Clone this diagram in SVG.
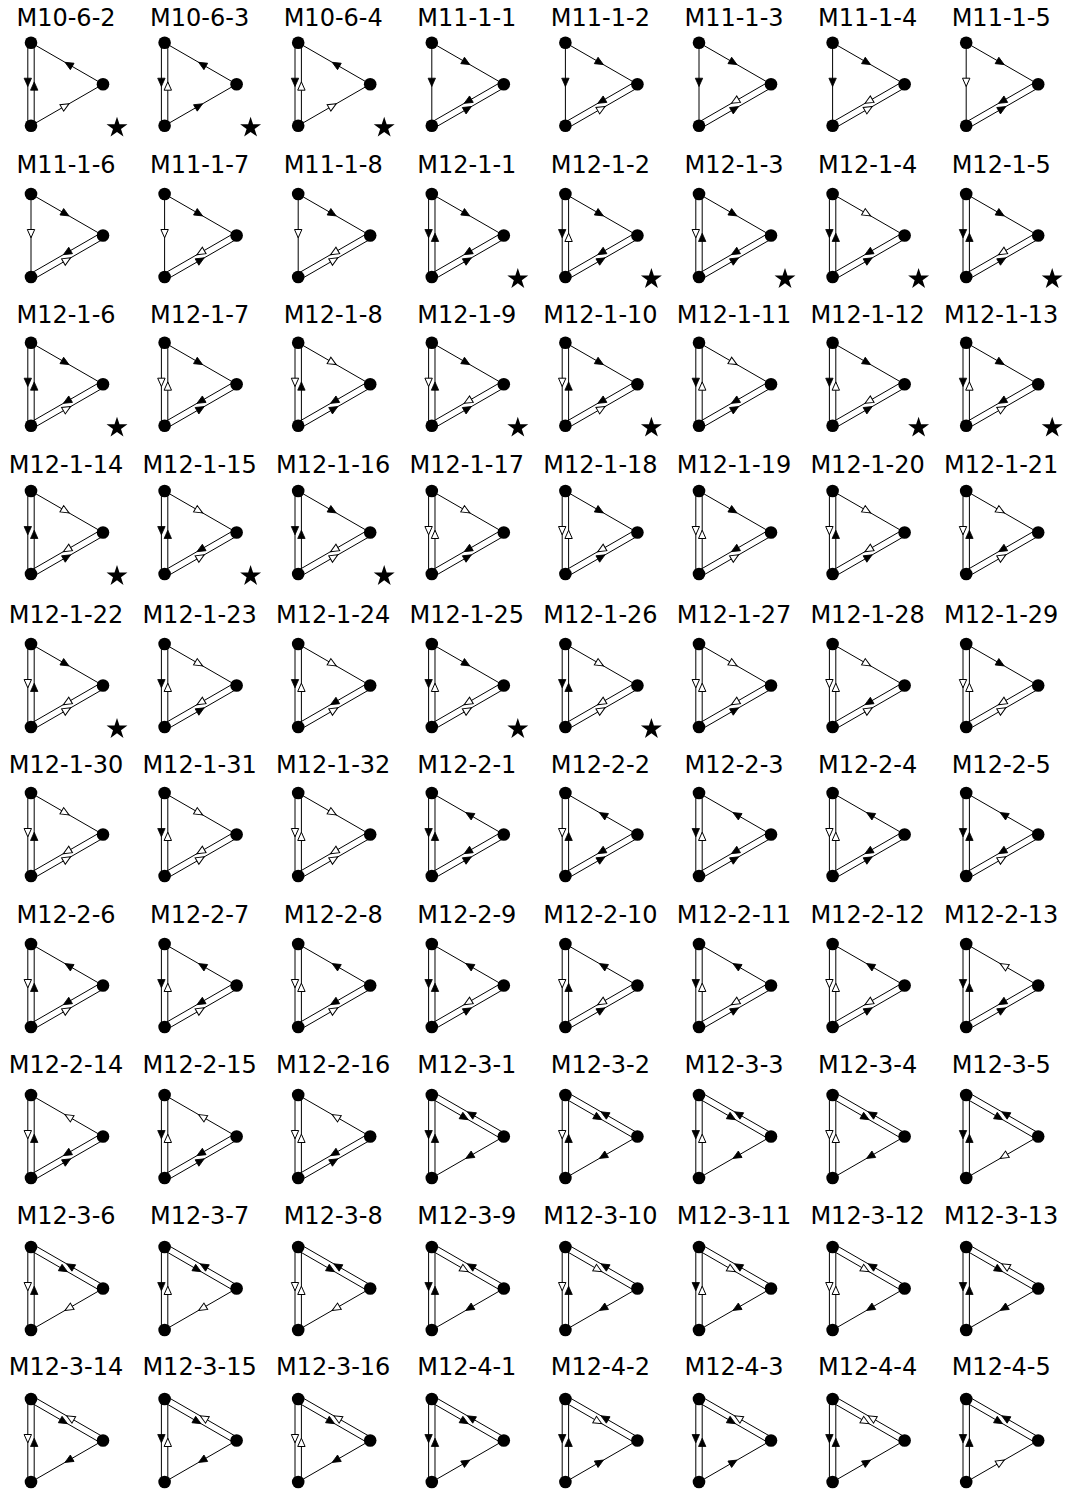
<svg xmlns="http://www.w3.org/2000/svg" width="1070" height="1493" viewBox="0 0 1070 1493">
<style>
text{font-family:"DejaVu Sans",sans-serif;font-size:24px;text-anchor:middle;fill:#000}
.e{stroke:#000;stroke-width:1;fill:none}
.f{fill:#000;stroke:#000;stroke-width:0.8}
.o{fill:#fff;stroke:#000;stroke-width:1}
</style>
<defs>
<path id="ah" d="M2.3,0 L-6,-3.7 L-6,3.7 Z"/>
<line id="tb1" x1="0" y1="0" x2="0" y2="83"/>
<g id="tb2"><line x1="-3.2" y1="0" x2="-3.2" y2="83"/><line x1="3.2" y1="0" x2="3.2" y2="83"/></g>
<line id="tr1" x1="0" y1="0" x2="72" y2="41.5"/>
<g id="tr2"><line x1="-1.6" y1="2.77" x2="70.4" y2="44.27"/><line x1="1.6" y1="-2.77" x2="73.6" y2="38.73"/></g>
<line id="br1" x1="0" y1="83" x2="72" y2="41.5"/>
<g id="br2"><line x1="1.6" y1="85.77" x2="73.6" y2="44.27"/><line x1="-1.6" y1="80.23" x2="70.4" y2="38.73"/></g>
<use id="tbD1" href="#ah" transform="translate(0,41.5) rotate(90)"/>
<use id="tbD2" href="#ah" transform="translate(-3.2,41.5) rotate(90)"/>
<use id="tbU2" href="#ah" transform="translate(3.2,41.5) rotate(-90)"/>
<use id="trR1" href="#ah" transform="translate(36,20.75) rotate(30)"/>
<use id="trL1" href="#ah" transform="translate(36,20.75) rotate(210)"/>
<use id="trR2" href="#ah" transform="translate(34.4,23.52) rotate(30)"/>
<use id="trL2" href="#ah" transform="translate(37.6,17.98) rotate(210)"/>
<use id="brR1" href="#ah" transform="translate(36,62.25) rotate(-30)"/>
<use id="brL1" href="#ah" transform="translate(36,62.25) rotate(150)"/>
<use id="brR2" href="#ah" transform="translate(37.6,65.02) rotate(-30)"/>
<use id="brL2" href="#ah" transform="translate(34.4,59.48) rotate(150)"/>
<g id="nd" fill="#000"><circle cx="0" cy="0" r="6.3"/><circle cx="0" cy="83" r="6.3"/><circle cx="72" cy="41.5" r="6.3"/></g>
<path id="star" fill="#000" d="M0,-11 L2.469,-3.398 L10.462,-3.399 L3.996,1.298 L6.466,8.899 L0,4.2 L-6.466,8.899 L-3.996,1.298 L-10.462,-3.399 L-2.469,-3.398 Z"/>
</defs>
<rect width="1070" height="1493" fill="#fff"/>

<g id="M10-6-2" transform="translate(31,42.7)"><text x="35" y="-16.7">M10-6-2</text><g class="e"><use href="#tb2"/><use href="#tr1"/><use href="#br1"/><use href="#tbD2" class="f"/><use href="#tbU2" class="f"/><use href="#trL1" class="f"/><use href="#brR1" class="o"/></g><use href="#nd"/><use href="#star" x="86" y="85"/></g>
<g id="M10-6-3" transform="translate(164.6,42.7)"><text x="35" y="-16.7">M10-6-3</text><g class="e"><use href="#tb2"/><use href="#tr1"/><use href="#br1"/><use href="#tbD2" class="f"/><use href="#tbU2" class="o"/><use href="#trL1" class="f"/><use href="#brR1" class="f"/></g><use href="#nd"/><use href="#star" x="86" y="85"/></g>
<g id="M10-6-4" transform="translate(298.2,42.7)"><text x="35" y="-16.7">M10-6-4</text><g class="e"><use href="#tb2"/><use href="#tr1"/><use href="#br1"/><use href="#tbD2" class="f"/><use href="#tbU2" class="o"/><use href="#trL1" class="f"/><use href="#brR1" class="o"/></g><use href="#nd"/><use href="#star" x="86" y="85"/></g>
<g id="M11-1-1" transform="translate(431.8,42.7)"><text x="35" y="-16.7">M11-1-1</text><g class="e"><use href="#tb1"/><use href="#tr1"/><use href="#br2"/><use href="#tbD1" class="f"/><use href="#trR1" class="f"/><use href="#brL2" class="f"/><use href="#brR2" class="f"/></g><use href="#nd"/></g>
<g id="M11-1-2" transform="translate(565.4,42.7)"><text x="35" y="-16.7">M11-1-2</text><g class="e"><use href="#tb1"/><use href="#tr1"/><use href="#br2"/><use href="#tbD1" class="f"/><use href="#trR1" class="f"/><use href="#brL2" class="f"/><use href="#brR2" class="o"/></g><use href="#nd"/></g>
<g id="M11-1-3" transform="translate(699,42.7)"><text x="35" y="-16.7">M11-1-3</text><g class="e"><use href="#tb1"/><use href="#tr1"/><use href="#br2"/><use href="#tbD1" class="f"/><use href="#trR1" class="f"/><use href="#brL2" class="o"/><use href="#brR2" class="f"/></g><use href="#nd"/></g>
<g id="M11-1-4" transform="translate(832.6,42.7)"><text x="35" y="-16.7">M11-1-4</text><g class="e"><use href="#tb1"/><use href="#tr1"/><use href="#br2"/><use href="#tbD1" class="f"/><use href="#trR1" class="f"/><use href="#brL2" class="o"/><use href="#brR2" class="o"/></g><use href="#nd"/></g>
<g id="M11-1-5" transform="translate(966.2,42.7)"><text x="35" y="-16.7">M11-1-5</text><g class="e"><use href="#tb1"/><use href="#tr1"/><use href="#br2"/><use href="#tbD1" class="o"/><use href="#trR1" class="f"/><use href="#brL2" class="f"/><use href="#brR2" class="f"/></g><use href="#nd"/></g>

<g id="M11-1-6" transform="translate(31,194)"><text x="35" y="-21">M11-1-6</text><g class="e"><use href="#tb1"/><use href="#tr1"/><use href="#br2"/><use href="#tbD1" class="o"/><use href="#trR1" class="f"/><use href="#brL2" class="f"/><use href="#brR2" class="o"/></g><use href="#nd"/></g>
<g id="M11-1-7" transform="translate(164.6,194)"><text x="35" y="-21">M11-1-7</text><g class="e"><use href="#tb1"/><use href="#tr1"/><use href="#br2"/><use href="#tbD1" class="o"/><use href="#trR1" class="f"/><use href="#brL2" class="o"/><use href="#brR2" class="f"/></g><use href="#nd"/></g>
<g id="M11-1-8" transform="translate(298.2,194)"><text x="35" y="-21">M11-1-8</text><g class="e"><use href="#tb1"/><use href="#tr1"/><use href="#br2"/><use href="#tbD1" class="o"/><use href="#trR1" class="f"/><use href="#brL2" class="o"/><use href="#brR2" class="o"/></g><use href="#nd"/></g>
<g id="M12-1-1" transform="translate(431.8,194)"><text x="35" y="-21">M12-1-1</text><g class="e"><use href="#tb2"/><use href="#tr1"/><use href="#br2"/><use href="#tbD2" class="f"/><use href="#tbU2" class="f"/><use href="#trR1" class="f"/><use href="#brL2" class="f"/><use href="#brR2" class="f"/></g><use href="#nd"/><use href="#star" x="86" y="85"/></g>
<g id="M12-1-2" transform="translate(565.4,194)"><text x="35" y="-21">M12-1-2</text><g class="e"><use href="#tb2"/><use href="#tr1"/><use href="#br2"/><use href="#tbD2" class="f"/><use href="#tbU2" class="o"/><use href="#trR1" class="f"/><use href="#brL2" class="f"/><use href="#brR2" class="f"/></g><use href="#nd"/><use href="#star" x="86" y="85"/></g>
<g id="M12-1-3" transform="translate(699,194)"><text x="35" y="-21">M12-1-3</text><g class="e"><use href="#tb2"/><use href="#tr1"/><use href="#br2"/><use href="#tbD2" class="o"/><use href="#tbU2" class="f"/><use href="#trR1" class="f"/><use href="#brL2" class="f"/><use href="#brR2" class="f"/></g><use href="#nd"/><use href="#star" x="86" y="85"/></g>
<g id="M12-1-4" transform="translate(832.6,194)"><text x="35" y="-21">M12-1-4</text><g class="e"><use href="#tb2"/><use href="#tr1"/><use href="#br2"/><use href="#tbD2" class="f"/><use href="#tbU2" class="f"/><use href="#trR1" class="o"/><use href="#brL2" class="f"/><use href="#brR2" class="f"/></g><use href="#nd"/><use href="#star" x="86" y="85"/></g>
<g id="M12-1-5" transform="translate(966.2,194)"><text x="35" y="-21">M12-1-5</text><g class="e"><use href="#tb2"/><use href="#tr1"/><use href="#br2"/><use href="#tbD2" class="f"/><use href="#tbU2" class="f"/><use href="#trR1" class="f"/><use href="#brL2" class="o"/><use href="#brR2" class="f"/></g><use href="#nd"/><use href="#star" x="86" y="85"/></g>

<g id="M12-1-6" transform="translate(31,342.7)"><text x="35" y="-19.7">M12-1-6</text><g class="e"><use href="#tb2"/><use href="#tr1"/><use href="#br2"/><use href="#tbD2" class="f"/><use href="#tbU2" class="f"/><use href="#trR1" class="f"/><use href="#brL2" class="f"/><use href="#brR2" class="o"/></g><use href="#nd"/><use href="#star" x="86" y="85"/></g>
<g id="M12-1-7" transform="translate(164.6,342.7)"><text x="35" y="-19.7">M12-1-7</text><g class="e"><use href="#tb2"/><use href="#tr1"/><use href="#br2"/><use href="#tbD2" class="o"/><use href="#tbU2" class="o"/><use href="#trR1" class="f"/><use href="#brL2" class="f"/><use href="#brR2" class="f"/></g><use href="#nd"/></g>
<g id="M12-1-8" transform="translate(298.2,342.7)"><text x="35" y="-19.7">M12-1-8</text><g class="e"><use href="#tb2"/><use href="#tr1"/><use href="#br2"/><use href="#tbD2" class="o"/><use href="#tbU2" class="f"/><use href="#trR1" class="o"/><use href="#brL2" class="f"/><use href="#brR2" class="f"/></g><use href="#nd"/></g>
<g id="M12-1-9" transform="translate(431.8,342.7)"><text x="35" y="-19.7">M12-1-9</text><g class="e"><use href="#tb2"/><use href="#tr1"/><use href="#br2"/><use href="#tbD2" class="o"/><use href="#tbU2" class="f"/><use href="#trR1" class="f"/><use href="#brL2" class="o"/><use href="#brR2" class="f"/></g><use href="#nd"/><use href="#star" x="86" y="85"/></g>
<g id="M12-1-10" transform="translate(565.4,342.7)"><text x="35" y="-19.7">M12-1-10</text><g class="e"><use href="#tb2"/><use href="#tr1"/><use href="#br2"/><use href="#tbD2" class="o"/><use href="#tbU2" class="f"/><use href="#trR1" class="f"/><use href="#brL2" class="f"/><use href="#brR2" class="o"/></g><use href="#nd"/><use href="#star" x="86" y="85"/></g>
<g id="M12-1-11" transform="translate(699,342.7)"><text x="35" y="-19.7">M12-1-11</text><g class="e"><use href="#tb2"/><use href="#tr1"/><use href="#br2"/><use href="#tbD2" class="f"/><use href="#tbU2" class="o"/><use href="#trR1" class="o"/><use href="#brL2" class="f"/><use href="#brR2" class="f"/></g><use href="#nd"/></g>
<g id="M12-1-12" transform="translate(832.6,342.7)"><text x="35" y="-19.7">M12-1-12</text><g class="e"><use href="#tb2"/><use href="#tr1"/><use href="#br2"/><use href="#tbD2" class="f"/><use href="#tbU2" class="o"/><use href="#trR1" class="f"/><use href="#brL2" class="o"/><use href="#brR2" class="f"/></g><use href="#nd"/><use href="#star" x="86" y="85"/></g>
<g id="M12-1-13" transform="translate(966.2,342.7)"><text x="35" y="-19.7">M12-1-13</text><g class="e"><use href="#tb2"/><use href="#tr1"/><use href="#br2"/><use href="#tbD2" class="f"/><use href="#tbU2" class="o"/><use href="#trR1" class="f"/><use href="#brL2" class="f"/><use href="#brR2" class="o"/></g><use href="#nd"/><use href="#star" x="86" y="85"/></g>

<g id="M12-1-14" transform="translate(31,491)"><text x="35" y="-18">M12-1-14</text><g class="e"><use href="#tb2"/><use href="#tr1"/><use href="#br2"/><use href="#tbD2" class="f"/><use href="#tbU2" class="f"/><use href="#trR1" class="o"/><use href="#brL2" class="o"/><use href="#brR2" class="f"/></g><use href="#nd"/><use href="#star" x="86" y="85"/></g>
<g id="M12-1-15" transform="translate(164.6,491)"><text x="35" y="-18">M12-1-15</text><g class="e"><use href="#tb2"/><use href="#tr1"/><use href="#br2"/><use href="#tbD2" class="f"/><use href="#tbU2" class="f"/><use href="#trR1" class="o"/><use href="#brL2" class="f"/><use href="#brR2" class="o"/></g><use href="#nd"/><use href="#star" x="86" y="85"/></g>
<g id="M12-1-16" transform="translate(298.2,491)"><text x="35" y="-18">M12-1-16</text><g class="e"><use href="#tb2"/><use href="#tr1"/><use href="#br2"/><use href="#tbD2" class="f"/><use href="#tbU2" class="f"/><use href="#trR1" class="f"/><use href="#brL2" class="o"/><use href="#brR2" class="o"/></g><use href="#nd"/><use href="#star" x="86" y="85"/></g>
<g id="M12-1-17" transform="translate(431.8,491)"><text x="35" y="-18">M12-1-17</text><g class="e"><use href="#tb2"/><use href="#tr1"/><use href="#br2"/><use href="#tbD2" class="o"/><use href="#tbU2" class="o"/><use href="#trR1" class="o"/><use href="#brL2" class="f"/><use href="#brR2" class="f"/></g><use href="#nd"/></g>
<g id="M12-1-18" transform="translate(565.4,491)"><text x="35" y="-18">M12-1-18</text><g class="e"><use href="#tb2"/><use href="#tr1"/><use href="#br2"/><use href="#tbD2" class="o"/><use href="#tbU2" class="o"/><use href="#trR1" class="f"/><use href="#brL2" class="o"/><use href="#brR2" class="f"/></g><use href="#nd"/></g>
<g id="M12-1-19" transform="translate(699,491)"><text x="35" y="-18">M12-1-19</text><g class="e"><use href="#tb2"/><use href="#tr1"/><use href="#br2"/><use href="#tbD2" class="o"/><use href="#tbU2" class="o"/><use href="#trR1" class="f"/><use href="#brL2" class="f"/><use href="#brR2" class="o"/></g><use href="#nd"/></g>
<g id="M12-1-20" transform="translate(832.6,491)"><text x="35" y="-18">M12-1-20</text><g class="e"><use href="#tb2"/><use href="#tr1"/><use href="#br2"/><use href="#tbD2" class="o"/><use href="#tbU2" class="f"/><use href="#trR1" class="o"/><use href="#brL2" class="o"/><use href="#brR2" class="f"/></g><use href="#nd"/></g>
<g id="M12-1-21" transform="translate(966.2,491)"><text x="35" y="-18">M12-1-21</text><g class="e"><use href="#tb2"/><use href="#tr1"/><use href="#br2"/><use href="#tbD2" class="o"/><use href="#tbU2" class="f"/><use href="#trR1" class="o"/><use href="#brL2" class="f"/><use href="#brR2" class="o"/></g><use href="#nd"/></g>

<g id="M12-1-22" transform="translate(31,644)"><text x="35" y="-21">M12-1-22</text><g class="e"><use href="#tb2"/><use href="#tr1"/><use href="#br2"/><use href="#tbD2" class="o"/><use href="#tbU2" class="f"/><use href="#trR1" class="f"/><use href="#brL2" class="o"/><use href="#brR2" class="o"/></g><use href="#nd"/><use href="#star" x="86" y="85"/></g>
<g id="M12-1-23" transform="translate(164.6,644)"><text x="35" y="-21">M12-1-23</text><g class="e"><use href="#tb2"/><use href="#tr1"/><use href="#br2"/><use href="#tbD2" class="f"/><use href="#tbU2" class="o"/><use href="#trR1" class="o"/><use href="#brL2" class="o"/><use href="#brR2" class="f"/></g><use href="#nd"/></g>
<g id="M12-1-24" transform="translate(298.2,644)"><text x="35" y="-21">M12-1-24</text><g class="e"><use href="#tb2"/><use href="#tr1"/><use href="#br2"/><use href="#tbD2" class="f"/><use href="#tbU2" class="o"/><use href="#trR1" class="o"/><use href="#brL2" class="f"/><use href="#brR2" class="o"/></g><use href="#nd"/></g>
<g id="M12-1-25" transform="translate(431.8,644)"><text x="35" y="-21">M12-1-25</text><g class="e"><use href="#tb2"/><use href="#tr1"/><use href="#br2"/><use href="#tbD2" class="f"/><use href="#tbU2" class="o"/><use href="#trR1" class="f"/><use href="#brL2" class="o"/><use href="#brR2" class="o"/></g><use href="#nd"/><use href="#star" x="86" y="85"/></g>
<g id="M12-1-26" transform="translate(565.4,644)"><text x="35" y="-21">M12-1-26</text><g class="e"><use href="#tb2"/><use href="#tr1"/><use href="#br2"/><use href="#tbD2" class="f"/><use href="#tbU2" class="f"/><use href="#trR1" class="o"/><use href="#brL2" class="o"/><use href="#brR2" class="o"/></g><use href="#nd"/><use href="#star" x="86" y="85"/></g>
<g id="M12-1-27" transform="translate(699,644)"><text x="35" y="-21">M12-1-27</text><g class="e"><use href="#tb2"/><use href="#tr1"/><use href="#br2"/><use href="#tbD2" class="o"/><use href="#tbU2" class="o"/><use href="#trR1" class="o"/><use href="#brL2" class="o"/><use href="#brR2" class="f"/></g><use href="#nd"/></g>
<g id="M12-1-28" transform="translate(832.6,644)"><text x="35" y="-21">M12-1-28</text><g class="e"><use href="#tb2"/><use href="#tr1"/><use href="#br2"/><use href="#tbD2" class="o"/><use href="#tbU2" class="o"/><use href="#trR1" class="o"/><use href="#brL2" class="f"/><use href="#brR2" class="o"/></g><use href="#nd"/></g>
<g id="M12-1-29" transform="translate(966.2,644)"><text x="35" y="-21">M12-1-29</text><g class="e"><use href="#tb2"/><use href="#tr1"/><use href="#br2"/><use href="#tbD2" class="o"/><use href="#tbU2" class="o"/><use href="#trR1" class="f"/><use href="#brL2" class="o"/><use href="#brR2" class="o"/></g><use href="#nd"/></g>

<g id="M12-1-30" transform="translate(31,793)"><text x="35" y="-20">M12-1-30</text><g class="e"><use href="#tb2"/><use href="#tr1"/><use href="#br2"/><use href="#tbD2" class="o"/><use href="#tbU2" class="f"/><use href="#trR1" class="o"/><use href="#brL2" class="o"/><use href="#brR2" class="o"/></g><use href="#nd"/></g>
<g id="M12-1-31" transform="translate(164.6,793)"><text x="35" y="-20">M12-1-31</text><g class="e"><use href="#tb2"/><use href="#tr1"/><use href="#br2"/><use href="#tbD2" class="f"/><use href="#tbU2" class="o"/><use href="#trR1" class="o"/><use href="#brL2" class="o"/><use href="#brR2" class="o"/></g><use href="#nd"/></g>
<g id="M12-1-32" transform="translate(298.2,793)"><text x="35" y="-20">M12-1-32</text><g class="e"><use href="#tb2"/><use href="#tr1"/><use href="#br2"/><use href="#tbD2" class="o"/><use href="#tbU2" class="o"/><use href="#trR1" class="o"/><use href="#brL2" class="o"/><use href="#brR2" class="o"/></g><use href="#nd"/></g>
<g id="M12-2-1" transform="translate(431.8,793)"><text x="35" y="-20">M12-2-1</text><g class="e"><use href="#tb2"/><use href="#tr1"/><use href="#br2"/><use href="#tbD2" class="f"/><use href="#tbU2" class="f"/><use href="#trL1" class="f"/><use href="#brL2" class="f"/><use href="#brR2" class="f"/></g><use href="#nd"/></g>
<g id="M12-2-2" transform="translate(565.4,793)"><text x="35" y="-20">M12-2-2</text><g class="e"><use href="#tb2"/><use href="#tr1"/><use href="#br2"/><use href="#tbD2" class="o"/><use href="#tbU2" class="f"/><use href="#trL1" class="f"/><use href="#brL2" class="f"/><use href="#brR2" class="f"/></g><use href="#nd"/></g>
<g id="M12-2-3" transform="translate(699,793)"><text x="35" y="-20">M12-2-3</text><g class="e"><use href="#tb2"/><use href="#tr1"/><use href="#br2"/><use href="#tbD2" class="f"/><use href="#tbU2" class="o"/><use href="#trL1" class="f"/><use href="#brL2" class="f"/><use href="#brR2" class="f"/></g><use href="#nd"/></g>
<g id="M12-2-4" transform="translate(832.6,793)"><text x="35" y="-20">M12-2-4</text><g class="e"><use href="#tb2"/><use href="#tr1"/><use href="#br2"/><use href="#tbD2" class="o"/><use href="#tbU2" class="o"/><use href="#trL1" class="f"/><use href="#brL2" class="f"/><use href="#brR2" class="f"/></g><use href="#nd"/></g>
<g id="M12-2-5" transform="translate(966.2,793)"><text x="35" y="-20">M12-2-5</text><g class="e"><use href="#tb2"/><use href="#tr1"/><use href="#br2"/><use href="#tbD2" class="f"/><use href="#tbU2" class="f"/><use href="#trL1" class="f"/><use href="#brL2" class="f"/><use href="#brR2" class="o"/></g><use href="#nd"/></g>

<g id="M12-2-6" transform="translate(31,944)"><text x="35" y="-21">M12-2-6</text><g class="e"><use href="#tb2"/><use href="#tr1"/><use href="#br2"/><use href="#tbD2" class="o"/><use href="#tbU2" class="f"/><use href="#trL1" class="f"/><use href="#brL2" class="f"/><use href="#brR2" class="o"/></g><use href="#nd"/></g>
<g id="M12-2-7" transform="translate(164.6,944)"><text x="35" y="-21">M12-2-7</text><g class="e"><use href="#tb2"/><use href="#tr1"/><use href="#br2"/><use href="#tbD2" class="f"/><use href="#tbU2" class="o"/><use href="#trL1" class="f"/><use href="#brL2" class="f"/><use href="#brR2" class="o"/></g><use href="#nd"/></g>
<g id="M12-2-8" transform="translate(298.2,944)"><text x="35" y="-21">M12-2-8</text><g class="e"><use href="#tb2"/><use href="#tr1"/><use href="#br2"/><use href="#tbD2" class="o"/><use href="#tbU2" class="o"/><use href="#trL1" class="f"/><use href="#brL2" class="f"/><use href="#brR2" class="o"/></g><use href="#nd"/></g>
<g id="M12-2-9" transform="translate(431.8,944)"><text x="35" y="-21">M12-2-9</text><g class="e"><use href="#tb2"/><use href="#tr1"/><use href="#br2"/><use href="#tbD2" class="f"/><use href="#tbU2" class="f"/><use href="#trL1" class="f"/><use href="#brL2" class="o"/><use href="#brR2" class="f"/></g><use href="#nd"/></g>
<g id="M12-2-10" transform="translate(565.4,944)"><text x="35" y="-21">M12-2-10</text><g class="e"><use href="#tb2"/><use href="#tr1"/><use href="#br2"/><use href="#tbD2" class="o"/><use href="#tbU2" class="f"/><use href="#trL1" class="f"/><use href="#brL2" class="o"/><use href="#brR2" class="f"/></g><use href="#nd"/></g>
<g id="M12-2-11" transform="translate(699,944)"><text x="35" y="-21">M12-2-11</text><g class="e"><use href="#tb2"/><use href="#tr1"/><use href="#br2"/><use href="#tbD2" class="f"/><use href="#tbU2" class="o"/><use href="#trL1" class="f"/><use href="#brL2" class="o"/><use href="#brR2" class="f"/></g><use href="#nd"/></g>
<g id="M12-2-12" transform="translate(832.6,944)"><text x="35" y="-21">M12-2-12</text><g class="e"><use href="#tb2"/><use href="#tr1"/><use href="#br2"/><use href="#tbD2" class="o"/><use href="#tbU2" class="o"/><use href="#trL1" class="f"/><use href="#brL2" class="o"/><use href="#brR2" class="f"/></g><use href="#nd"/></g>
<g id="M12-2-13" transform="translate(966.2,944)"><text x="35" y="-21">M12-2-13</text><g class="e"><use href="#tb2"/><use href="#tr1"/><use href="#br2"/><use href="#tbD2" class="f"/><use href="#tbU2" class="f"/><use href="#trL1" class="o"/><use href="#brL2" class="f"/><use href="#brR2" class="f"/></g><use href="#nd"/></g>

<g id="M12-2-14" transform="translate(31,1095)"><text x="35" y="-22">M12-2-14</text><g class="e"><use href="#tb2"/><use href="#tr1"/><use href="#br2"/><use href="#tbD2" class="o"/><use href="#tbU2" class="f"/><use href="#trL1" class="o"/><use href="#brL2" class="f"/><use href="#brR2" class="f"/></g><use href="#nd"/></g>
<g id="M12-2-15" transform="translate(164.6,1095)"><text x="35" y="-22">M12-2-15</text><g class="e"><use href="#tb2"/><use href="#tr1"/><use href="#br2"/><use href="#tbD2" class="f"/><use href="#tbU2" class="o"/><use href="#trL1" class="o"/><use href="#brL2" class="f"/><use href="#brR2" class="f"/></g><use href="#nd"/></g>
<g id="M12-2-16" transform="translate(298.2,1095)"><text x="35" y="-22">M12-2-16</text><g class="e"><use href="#tb2"/><use href="#tr1"/><use href="#br2"/><use href="#tbD2" class="o"/><use href="#tbU2" class="o"/><use href="#trL1" class="o"/><use href="#brL2" class="f"/><use href="#brR2" class="f"/></g><use href="#nd"/></g>
<g id="M12-3-1" transform="translate(431.8,1095)"><text x="35" y="-22">M12-3-1</text><g class="e"><use href="#tb2"/><use href="#tr2"/><use href="#br1"/><use href="#tbD2" class="f"/><use href="#tbU2" class="f"/><use href="#trR2" class="f"/><use href="#trL2" class="f"/><use href="#brL1" class="f"/></g><use href="#nd"/></g>
<g id="M12-3-2" transform="translate(565.4,1095)"><text x="35" y="-22">M12-3-2</text><g class="e"><use href="#tb2"/><use href="#tr2"/><use href="#br1"/><use href="#tbD2" class="o"/><use href="#tbU2" class="f"/><use href="#trR2" class="f"/><use href="#trL2" class="f"/><use href="#brL1" class="f"/></g><use href="#nd"/></g>
<g id="M12-3-3" transform="translate(699,1095)"><text x="35" y="-22">M12-3-3</text><g class="e"><use href="#tb2"/><use href="#tr2"/><use href="#br1"/><use href="#tbD2" class="f"/><use href="#tbU2" class="o"/><use href="#trR2" class="f"/><use href="#trL2" class="f"/><use href="#brL1" class="f"/></g><use href="#nd"/></g>
<g id="M12-3-4" transform="translate(832.6,1095)"><text x="35" y="-22">M12-3-4</text><g class="e"><use href="#tb2"/><use href="#tr2"/><use href="#br1"/><use href="#tbD2" class="o"/><use href="#tbU2" class="o"/><use href="#trR2" class="f"/><use href="#trL2" class="f"/><use href="#brL1" class="f"/></g><use href="#nd"/></g>
<g id="M12-3-5" transform="translate(966.2,1095)"><text x="35" y="-22">M12-3-5</text><g class="e"><use href="#tb2"/><use href="#tr2"/><use href="#br1"/><use href="#tbD2" class="f"/><use href="#tbU2" class="f"/><use href="#trR2" class="f"/><use href="#trL2" class="f"/><use href="#brL1" class="o"/></g><use href="#nd"/></g>

<g id="M12-3-6" transform="translate(31,1247)"><text x="35" y="-23">M12-3-6</text><g class="e"><use href="#tb2"/><use href="#tr2"/><use href="#br1"/><use href="#tbD2" class="o"/><use href="#tbU2" class="f"/><use href="#trR2" class="f"/><use href="#trL2" class="f"/><use href="#brL1" class="o"/></g><use href="#nd"/></g>
<g id="M12-3-7" transform="translate(164.6,1247)"><text x="35" y="-23">M12-3-7</text><g class="e"><use href="#tb2"/><use href="#tr2"/><use href="#br1"/><use href="#tbD2" class="f"/><use href="#tbU2" class="o"/><use href="#trR2" class="f"/><use href="#trL2" class="f"/><use href="#brL1" class="o"/></g><use href="#nd"/></g>
<g id="M12-3-8" transform="translate(298.2,1247)"><text x="35" y="-23">M12-3-8</text><g class="e"><use href="#tb2"/><use href="#tr2"/><use href="#br1"/><use href="#tbD2" class="o"/><use href="#tbU2" class="o"/><use href="#trR2" class="f"/><use href="#trL2" class="f"/><use href="#brL1" class="o"/></g><use href="#nd"/></g>
<g id="M12-3-9" transform="translate(431.8,1247)"><text x="35" y="-23">M12-3-9</text><g class="e"><use href="#tb2"/><use href="#tr2"/><use href="#br1"/><use href="#tbD2" class="f"/><use href="#tbU2" class="f"/><use href="#trR2" class="o"/><use href="#trL2" class="f"/><use href="#brL1" class="f"/></g><use href="#nd"/></g>
<g id="M12-3-10" transform="translate(565.4,1247)"><text x="35" y="-23">M12-3-10</text><g class="e"><use href="#tb2"/><use href="#tr2"/><use href="#br1"/><use href="#tbD2" class="o"/><use href="#tbU2" class="f"/><use href="#trR2" class="o"/><use href="#trL2" class="f"/><use href="#brL1" class="f"/></g><use href="#nd"/></g>
<g id="M12-3-11" transform="translate(699,1247)"><text x="35" y="-23">M12-3-11</text><g class="e"><use href="#tb2"/><use href="#tr2"/><use href="#br1"/><use href="#tbD2" class="f"/><use href="#tbU2" class="o"/><use href="#trR2" class="o"/><use href="#trL2" class="f"/><use href="#brL1" class="f"/></g><use href="#nd"/></g>
<g id="M12-3-12" transform="translate(832.6,1247)"><text x="35" y="-23">M12-3-12</text><g class="e"><use href="#tb2"/><use href="#tr2"/><use href="#br1"/><use href="#tbD2" class="o"/><use href="#tbU2" class="o"/><use href="#trR2" class="o"/><use href="#trL2" class="f"/><use href="#brL1" class="f"/></g><use href="#nd"/></g>
<g id="M12-3-13" transform="translate(966.2,1247)"><text x="35" y="-23">M12-3-13</text><g class="e"><use href="#tb2"/><use href="#tr2"/><use href="#br1"/><use href="#tbD2" class="f"/><use href="#tbU2" class="f"/><use href="#trR2" class="f"/><use href="#trL2" class="o"/><use href="#brL1" class="f"/></g><use href="#nd"/></g>

<g id="M12-3-14" transform="translate(31,1399)"><text x="35" y="-24">M12-3-14</text><g class="e"><use href="#tb2"/><use href="#tr2"/><use href="#br1"/><use href="#tbD2" class="o"/><use href="#tbU2" class="f"/><use href="#trR2" class="f"/><use href="#trL2" class="o"/><use href="#brL1" class="f"/></g><use href="#nd"/></g>
<g id="M12-3-15" transform="translate(164.6,1399)"><text x="35" y="-24">M12-3-15</text><g class="e"><use href="#tb2"/><use href="#tr2"/><use href="#br1"/><use href="#tbD2" class="f"/><use href="#tbU2" class="o"/><use href="#trR2" class="f"/><use href="#trL2" class="o"/><use href="#brL1" class="f"/></g><use href="#nd"/></g>
<g id="M12-3-16" transform="translate(298.2,1399)"><text x="35" y="-24">M12-3-16</text><g class="e"><use href="#tb2"/><use href="#tr2"/><use href="#br1"/><use href="#tbD2" class="o"/><use href="#tbU2" class="o"/><use href="#trR2" class="f"/><use href="#trL2" class="o"/><use href="#brL1" class="f"/></g><use href="#nd"/></g>
<g id="M12-4-1" transform="translate(431.8,1399)"><text x="35" y="-24">M12-4-1</text><g class="e"><use href="#tb2"/><use href="#tr2"/><use href="#br1"/><use href="#tbD2" class="f"/><use href="#tbU2" class="f"/><use href="#trR2" class="f"/><use href="#trL2" class="f"/><use href="#brR1" class="f"/></g><use href="#nd"/></g>
<g id="M12-4-2" transform="translate(565.4,1399)"><text x="35" y="-24">M12-4-2</text><g class="e"><use href="#tb2"/><use href="#tr2"/><use href="#br1"/><use href="#tbD2" class="f"/><use href="#tbU2" class="f"/><use href="#trR2" class="o"/><use href="#trL2" class="f"/><use href="#brR1" class="f"/></g><use href="#nd"/></g>
<g id="M12-4-3" transform="translate(699,1399)"><text x="35" y="-24">M12-4-3</text><g class="e"><use href="#tb2"/><use href="#tr2"/><use href="#br1"/><use href="#tbD2" class="f"/><use href="#tbU2" class="f"/><use href="#trR2" class="f"/><use href="#trL2" class="o"/><use href="#brR1" class="f"/></g><use href="#nd"/></g>
<g id="M12-4-4" transform="translate(832.6,1399)"><text x="35" y="-24">M12-4-4</text><g class="e"><use href="#tb2"/><use href="#tr2"/><use href="#br1"/><use href="#tbD2" class="f"/><use href="#tbU2" class="f"/><use href="#trR2" class="o"/><use href="#trL2" class="o"/><use href="#brR1" class="f"/></g><use href="#nd"/></g>
<g id="M12-4-5" transform="translate(966.2,1399)"><text x="35" y="-24">M12-4-5</text><g class="e"><use href="#tb2"/><use href="#tr2"/><use href="#br1"/><use href="#tbD2" class="f"/><use href="#tbU2" class="f"/><use href="#trR2" class="f"/><use href="#trL2" class="f"/><use href="#brR1" class="o"/></g><use href="#nd"/></g>
</svg>
